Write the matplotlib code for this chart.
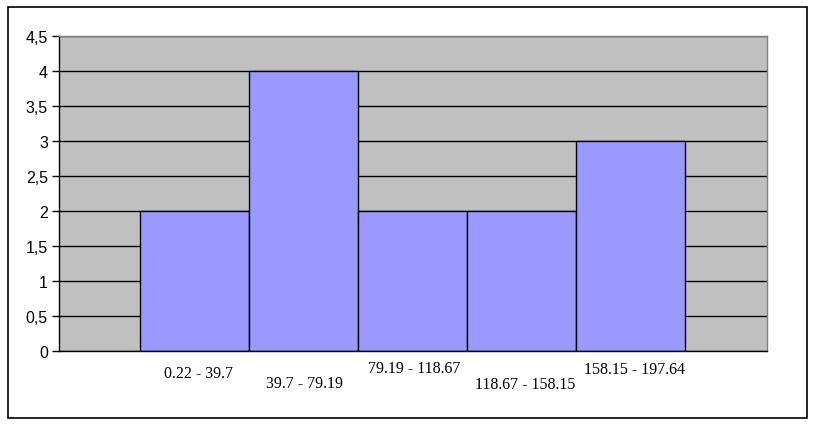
import matplotlib
matplotlib.use("Agg")
import matplotlib.pyplot as plt
from matplotlib.patches import Rectangle
from matplotlib.ticker import FuncFormatter

categories = ["0.22 - 39.7", "39.7 - 79.19", "79.19 - 118.67", "118.67 - 158.15", "158.15 - 197.64"]
counts = [2, 4, 2, 2, 3]
y_ticks = [0, 0.5, 1, 1.5, 2, 2.5, 3, 3.5, 4, 4.5]

W, H = 815, 427
fig = plt.figure(figsize=(W / 100, H / 100), dpi=100)
fig.patch.set_facecolor("white")

# outer frame
fig.patches.append(Rectangle((8 / W, 8 / H), (807 - 8) / W, (419 - 8) / H,
                             transform=fig.transFigure, fill=False,
                             edgecolor="black", linewidth=1.2))

ax = fig.add_axes([59 / W, 75 / H, (767 - 59) / W, (352 - 37) / H])
ax.set_facecolor("#C0C0C0")

x = list(range(len(categories)))
ax.bar(x, counts, width=1.0, color="#9999FF", edgecolor="black", linewidth=1.0, zorder=3)

ax.set_xlim(-0.5 - 81 / 109, len(categories) - 0.5 + 82 / 109)
ax.set_ylim(0, 4.5)
ax.set_yticks(y_ticks)
ax.yaxis.set_major_formatter(FuncFormatter(lambda v, p: ("%g" % v).replace(".", ",")))
ax.yaxis.grid(True, color="black", linewidth=1.0, zorder=1)
ax.set_axisbelow(True)
ax.tick_params(axis="y", length=5, width=1.0, direction="out", labelsize=11.5, pad=3)
for lab in ax.get_yticklabels():
    lab.set_fontfamily("Liberation Sans")

ax.set_xticks([])
ax.spines["left"].set_color("black")
ax.spines["bottom"].set_color("black")
ax.spines["top"].set_color("#808080")
ax.spines["right"].set_color("#808080")
for s in ax.spines.values():
    s.set_linewidth(1.0)
    s.set_zorder(4)

# staggered category labels (baseline pixel rows and small horizontal nudges)
label_baseline_px = [377.7, 388.3, 373.3, 388.7, 374]
label_dx_px = [4.5, 0.5, 2, 4, 4]
for i, c in enumerate(categories):
    ax.annotate(c, xy=(i, 0), xycoords=("data", "axes fraction"),
                xytext=(label_dx_px[i], -(label_baseline_px[i] - 352)), textcoords="offset pixels",
                ha="center", va="baseline", fontsize=11.5, fontfamily="Liberation Serif",
                annotation_clip=False)

fig.savefig("out.png", dpi=100)
